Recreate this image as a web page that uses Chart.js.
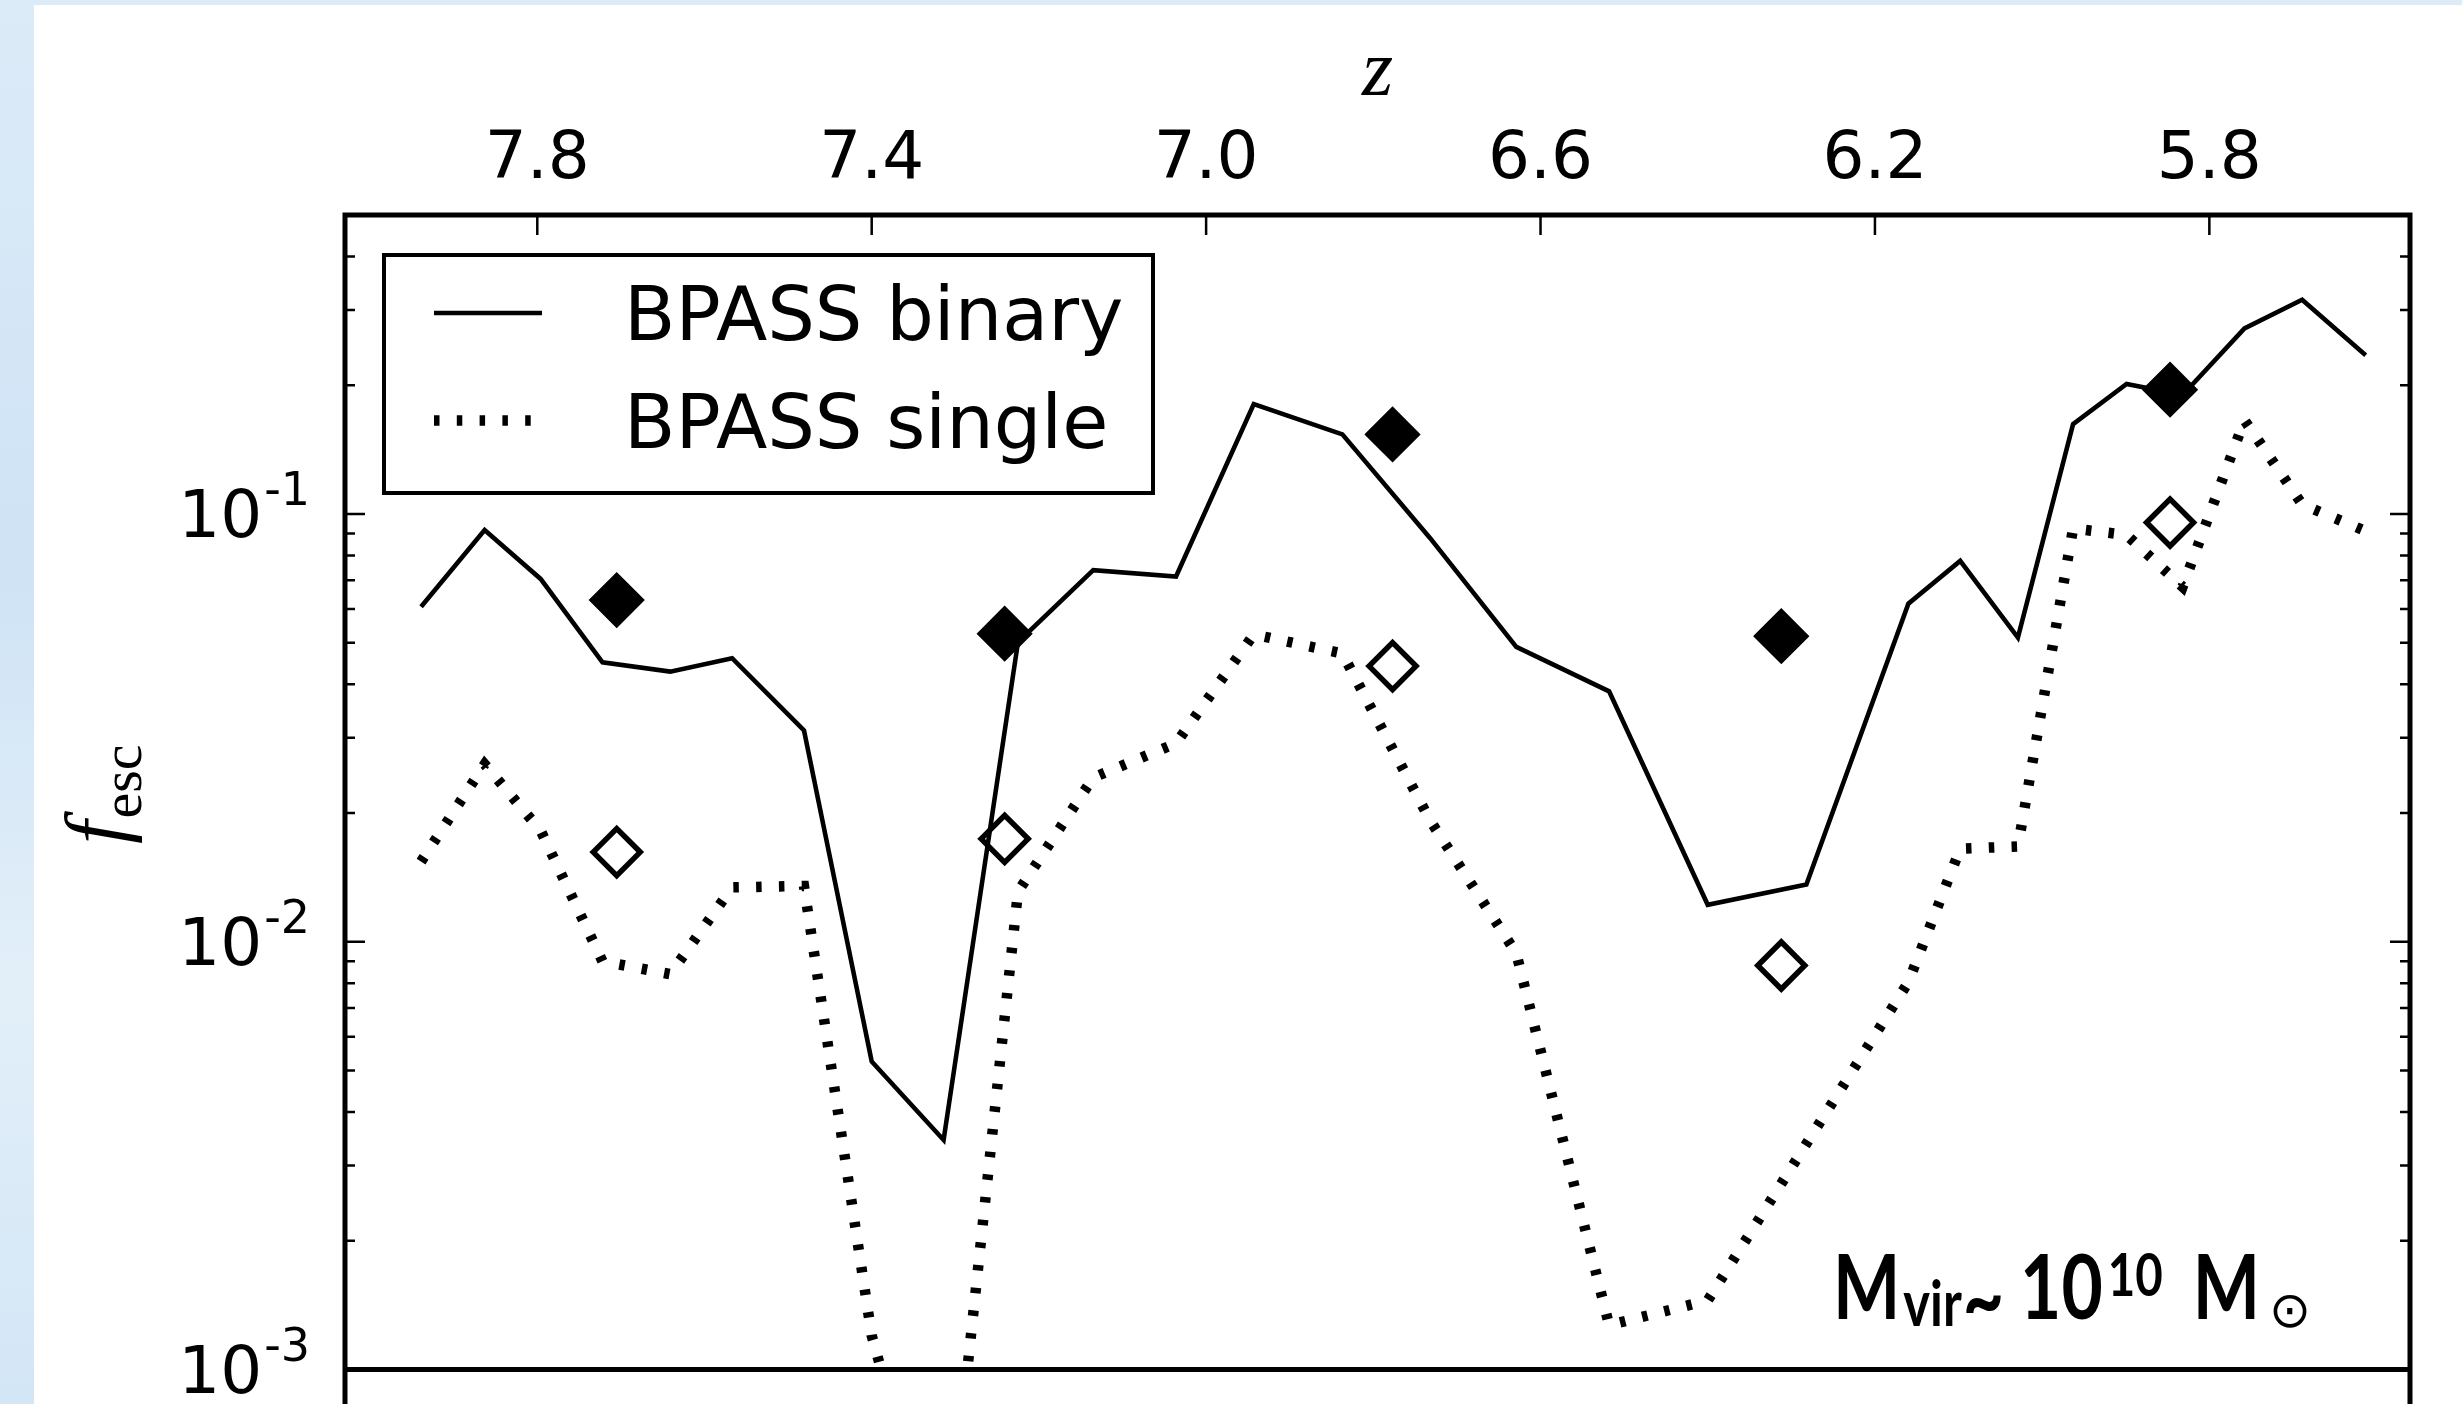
<!DOCTYPE html>
<html>
<head>
<meta charset="utf-8">
<script src="https://cdn.jsdelivr.net/npm/chart.js@4.4.0/dist/chart.umd.min.js"></script>
<style>
  html, body { margin: 0; padding: 0; background: #d9e9f7; }
  canvas { display: block; }
</style>
</head>
<body>
<canvas id="fescChart" width="2462" height="1404"></canvas>
<script>
// redshift of each snapshot along the line
const zSnap = [7.939, 7.863, 7.796, 7.722, 7.641, 7.567, 7.481, 7.400, 7.314, 7.225,
  7.135, 7.036, 6.943, 6.837, 6.732, 6.629, 6.518, 6.400, 6.282, 6.160,
  6.098, 6.029, 5.963, 5.899, 5.832, 5.758, 5.689, 5.613];
// escape fraction, binary and single star populations
const fBinary = [0.0607, 0.0917, 0.0705, 0.0450, 0.0428, 0.0460, 0.0312, 0.00525, 0.00344, 0.0502,
  0.0739, 0.0714, 0.1806, 0.1535, 0.0878, 0.0489, 0.0385, 0.0122, 0.0136, 0.0617,
  0.0777, 0.0514, 0.1622, 0.2013, 0.1897, 0.2716, 0.3170, 0.2350];
const fSingle = [0.0154, 0.0260, 0.0182, 0.0090, 0.0084, 0.0134, 0.0135, 0.0012, 0.0003, 0.0131,
  0.0242, 0.0291, 0.0523, 0.0472, 0.0192, 0.0094, 0.00127, 0.00145, 0.00337, 0.00805,
  0.0165, 0.0167, 0.0925, 0.0893, 0.0676, 0.1657, 0.1053, 0.0912];
// diamonds
const zMarker = [7.705, 7.241, 6.777, 6.312, 5.847];
const fBinaryMarker = [0.0629, 0.0525, 0.1535, 0.0518, 0.1953];
const fSingleMarker = [0.0162, 0.0174, 0.0441, 0.0088, 0.0955];

const zTicks = [7.8, 7.4, 7.0, 6.6, 6.2, 5.8];
const fTicks = [0.001, 0.01, 0.1];

const pts = (xs, ys) => xs.map((x, i) => ({ x: x, y: ys[i] }));

const tickFont = '66px "DejaVu Sans"';
const supFont = '46px "DejaVu Sans"';

let decor = {
  id: 'decor',
  beforeDraw(chart) {
    const { ctx, width, height } = chart;
    ctx.save();
    let g = ctx.createLinearGradient(0, 0, 0, height);
    g.addColorStop(0, '#dcebf8');
    g.addColorStop(0.4, '#cfe3f5');
    g.addColorStop(0.7, '#e2eff9');
    g.addColorStop(1, '#d3e6f6');
    ctx.fillStyle = g;
    ctx.fillRect(0, 0, width, height);
    ctx.fillStyle = '#ffffff';
    ctx.fillRect(34, 5, width - 34, height - 5);
    ctx.restore();
  },
  afterDraw(chart) {
    const { ctx, chartArea: a, height } = chart;
    const x = chart.scales.x, y = chart.scales.y;
    ctx.save();
    ctx.strokeStyle = '#000';
    ctx.fillStyle = '#000';

    // inward ticks
    ctx.lineWidth = 2.5;
    ctx.beginPath();
    zTicks.forEach(v => {
      const px = x.getPixelForValue(v);
      ctx.moveTo(px, a.top);
      ctx.lineTo(px, a.top + 20);
    });
    for (let e = -3; e <= 0; e++) {
      for (let m = 1; m <= 9; m++) {
        const v = m * Math.pow(10, e);
        if (v < y.min * 0.999 || v > y.max * 1.001) continue;
        const py = y.getPixelForValue(v);
        const len = m === 1 ? 20 : 10;
        ctx.moveTo(a.left, py); ctx.lineTo(a.left + len, py);
        ctx.moveTo(a.right, py); ctx.lineTo(a.right - len, py);
      }
    }
    ctx.stroke();

    // frame, the side lines run on into the panel below
    ctx.lineWidth = 5;
    ctx.lineJoin = 'miter';
    ctx.beginPath();
    ctx.moveTo(a.left, height);
    ctx.lineTo(a.left, a.top);
    ctx.lineTo(a.right, a.top);
    ctx.lineTo(a.right, height);
    ctx.moveTo(a.left, a.bottom);
    ctx.lineTo(a.right, a.bottom);
    ctx.stroke();

    // top tick labels
    ctx.font = tickFont;
    ctx.textAlign = 'center';
    ctx.textBaseline = 'alphabetic';
    zTicks.forEach(v => ctx.fillText(v.toFixed(1), x.getPixelForValue(v), a.top - 37));

    // log tick labels 10^n
    fTicks.forEach(v => {
      const py = y.getPixelForValue(v);
      const sup = String(Math.round(Math.log10(v)));
      ctx.textAlign = 'right';
      ctx.font = supFont;
      const supRight = a.left - 35;
      ctx.fillText(sup, supRight, py - 9);
      const sw = ctx.measureText(sup).width;
      ctx.font = tickFont;
      ctx.fillText('10', supRight - sw - 2, py + 23);
    });

    // axis titles
    ctx.textAlign = 'center';
    ctx.font = 'italic 80px "Liberation Serif"';
    ctx.fillText('z', (a.left + a.right) / 2, 95);

    ctx.save();
    ctx.translate(124, (a.top + a.bottom) / 2 + 3);
    ctx.rotate(-Math.PI / 2);
    ctx.textAlign = 'left';
    ctx.font = 'italic 84px "Liberation Serif"';
    const fw = ctx.measureText('f').width;
    ctx.font = '58px "Liberation Serif"';
    const ew = ctx.measureText('esc').width;
    const start = -(fw + ew) / 2;
    ctx.font = 'italic 84px "Liberation Serif"';
    ctx.fillText('f', start, 0);
    ctx.font = '58px "Liberation Serif"';
    ctx.fillText('esc', start + fw + 2, 17);
    ctx.restore();

    // halo mass note; the sans pieces are squeezed to the width of the original
    const parts = [
      { t: 'M', f: 'bold 90px Lato', dy: 0, gap: 3, squeeze: true },
      { t: 'vir', f: 'bold 64px Lato', dy: 7, gap: 1, squeeze: true },
      { t: '~', f: 'bold 90px Lato', dy: 12, gap: 16, squeeze: true },
      { t: '10', f: 'bold 90px Lato', dy: 0, gap: 5, squeeze: true },
      { t: '10', f: 'bold 60px Lato', dy: -23, gap: 30, squeeze: true },
      { t: 'M', f: 'bold 90px Lato', dy: 0, gap: 9, squeeze: true },
      { t: '\u2299', f: '50px "DejaVu Sans"', dy: 8, gap: 0, squeeze: false }
    ];
    let fixedW = 0, squeezeW = 0;
    parts.forEach(p => {
      ctx.font = p.f;
      p.w = ctx.measureText(p.t).width;
      fixedW += p.gap + (p.squeeze ? 0 : p.w);
      if (p.squeeze) squeezeW += p.w;
    });
    const k = (478 - fixedW) / squeezeW;
    ctx.textAlign = 'left';
    let cx = a.right - 577;
    const base = a.bottom - 51;
    parts.forEach(p => {
      const sx = p.squeeze ? k : 1;
      ctx.save();
      ctx.translate(cx, base + p.dy);
      ctx.scale(sx, 1);
      ctx.font = p.f;
      ctx.fillText(p.t, 0, 0);
      ctx.restore();
      cx += p.w * sx + p.gap;
    });

    ctx.restore();
  },
  afterDatasetsDraw(chart) {
    const { ctx, chartArea: a } = chart;
    const box = { left: a.left + 39, top: a.top + 40, w: 769, h: 238 };
    ctx.save();
    ctx.fillStyle = '#fff';
    ctx.fillRect(box.left, box.top, box.w, box.h);
    ctx.strokeStyle = '#000';
    ctx.lineWidth = 4;
    ctx.strokeRect(box.left, box.top, box.w, box.h);
    const rows = chart.data.datasets.filter(d => d.label);
    rows.forEach((d, i) => {
      const ry = box.top + 58 + i * 107.5;
      ctx.beginPath();
      ctx.lineWidth = d.borderWidth;
      ctx.setLineDash(d.borderDash || []);
      ctx.moveTo(box.left + 50, ry);
      ctx.lineTo(box.left + 158, ry);
      ctx.stroke();
      ctx.setLineDash([]);
      ctx.fillStyle = '#000';
      ctx.font = '75px "DejaVu Sans"';
      ctx.textAlign = 'left';
      ctx.fillText(d.label, box.left + 240, ry + 27);
    });
    ctx.restore();
  }
};

let fescChart = new Chart(document.getElementById('fescChart'), {
  type: 'line',
  data: {
    datasets: [
      {
        data: pts(zMarker, fBinaryMarker),
        showLine: false,
        pointStyle: 'rectRot',
        pointRadius: 26,
        backgroundColor: '#000',
        borderColor: '#000',
        borderWidth: 3,
        order: 0
      }, {
        data: pts(zMarker, fSingleMarker),
        showLine: false,
        pointStyle: 'rectRot',
        pointRadius: 23.5,
        backgroundColor: 'rgba(0, 0, 0, 0)',
        borderColor: '#000',
        borderWidth: 5.5,
        order: 0
      }, {
        label: 'BPASS binary',
        data: pts(zSnap, fBinary),
        borderColor: '#000',
        borderWidth: 4.6,
        pointRadius: 0,
        tension: 0,
        fill: false,
        clip: 0,
        order: 1
      }, {
        label: 'BPASS single',
        data: pts(zSnap, fSingle),
        borderColor: '#000',
        borderWidth: 10.5,
        borderDash: [5.5, 17.3],
        pointRadius: 0,
        tension: 0,
        fill: false,
        clip: 0,
        order: 1
      }
    ]
  },
  options: {
    responsive: false,
    devicePixelRatio: 1,
    animation: false,
    events: [],
    layout: {
      padding: { left: 345, top: 215, right: 52, bottom: 34.5 }
    },
    scales: {
      x: { type: 'linear', display: false, reverse: true, min: 5.560, max: 8.030 },
      y: { type: 'logarithmic', display: false, min: 0.001, max: 0.5 }
    },
    plugins: {
      legend: { display: false },
      tooltip: { enabled: false }
    }
  },
  plugins: [decor]
});
</script>
</body>
</html>
